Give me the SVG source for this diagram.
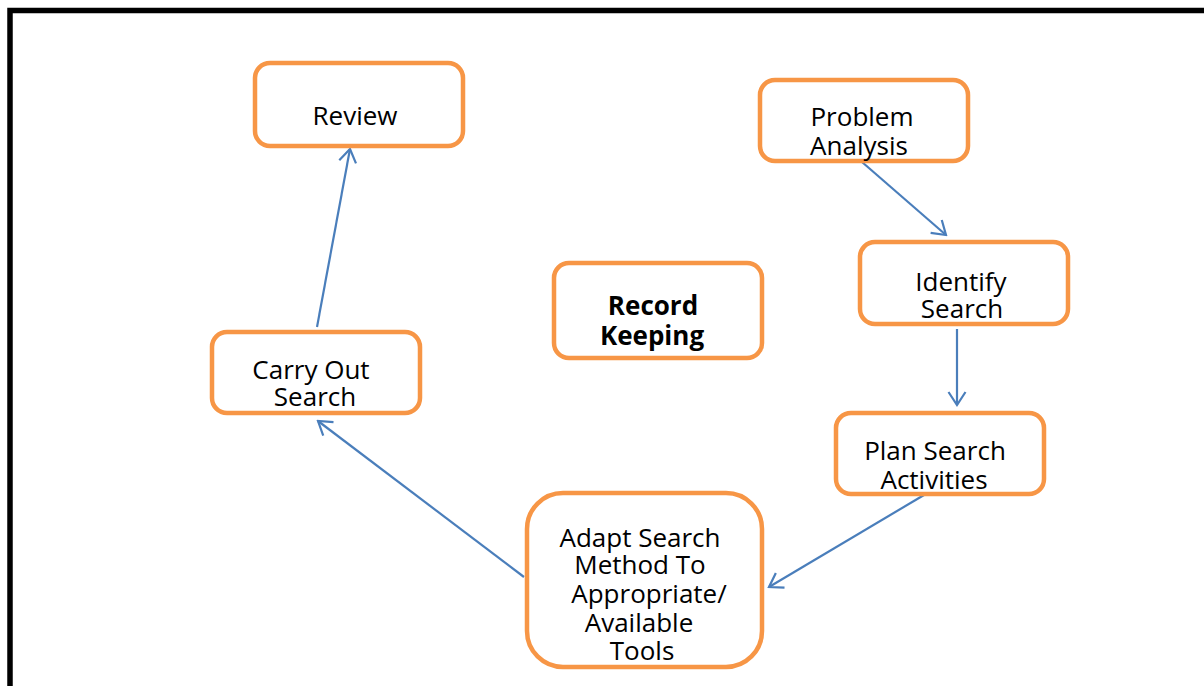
<svg xmlns="http://www.w3.org/2000/svg" width="1204" height="686" viewBox="0 0 1204 686">
  <style>
    .box { fill: #ffffff; stroke: #F79646; stroke-width: 4.5; }
    .lbl { font-family: "Open Sans", "Liberation Sans", Arial, sans-serif; font-size: 26px; fill: #000000; text-anchor: middle; }
    .bold { font-weight: bold; }
    .link { fill: none; stroke: #4A7EBB; stroke-width: 2.2; marker-end: url(#arrow); }
  </style>
  <defs>
    <marker id="arrow" markerUnits="userSpaceOnUse" viewBox="-14 -10 16 20" refX="0" refY="0" markerWidth="16" markerHeight="20" orient="auto">
      <path d="M-13,-8.5 L0,0 L-13,8.5" fill="none" stroke="#4A7EBB" stroke-width="2.2"/>
    </marker>
  </defs>

  <rect width="1204" height="686" fill="#ffffff"/>
  <!-- page frame, running off the right and bottom edges -->
  <rect x="10" y="10.5" width="1300" height="800" fill="none" stroke="#000000" stroke-width="5.5"/>

  <g id="connectors">
    <line class="link" x1="862" y1="162" x2="946" y2="235"/>
    <line class="link" x1="957" y1="329" x2="957" y2="405"/>
    <line class="link" x1="924" y1="495" x2="769" y2="587"/>
    <line class="link" x1="524" y1="577" x2="318" y2="421"/>
    <line class="link" x1="317" y1="327" x2="350" y2="149"/>
  </g>

  <g id="review">
    <rect class="box" x="255" y="63" width="208" height="83" rx="15"/>
    <text class="lbl" x="355" y="125">Review</text>
  </g>

  <g id="problem-analysis">
    <rect class="box" x="760" y="80" width="208" height="81" rx="15"/>
    <text class="lbl" x="862" y="126">Problem</text>
    <text class="lbl" x="859" y="155">Analysis</text>
  </g>

  <g id="identify-search">
    <rect class="box" x="860" y="242" width="208" height="82" rx="15"/>
    <text class="lbl" x="961" y="291">Identify</text>
    <text class="lbl" x="962" y="318">Search</text>
  </g>

  <g id="record-keeping">
    <rect class="box" x="554" y="263" width="208" height="95" rx="15"/>
    <text class="lbl bold" x="653" y="315">Record</text>
    <text class="lbl bold" x="652" y="345">Keeping</text>
  </g>

  <g id="carry-out-search">
    <rect class="box" x="212" y="332" width="208" height="81" rx="15"/>
    <text class="lbl" x="311" y="379">Carry Out</text>
    <text class="lbl" x="315" y="406">Search</text>
  </g>

  <g id="plan-search-activities">
    <rect class="box" x="836" y="413" width="208" height="81" rx="15"/>
    <text class="lbl" x="935" y="460">Plan Search</text>
    <text class="lbl" x="934" y="489">Activities</text>
  </g>

  <g id="adapt-search-method">
    <rect class="box" x="527" y="493" width="235" height="174" rx="36"/>
    <text class="lbl" x="640" y="547">Adapt Search</text>
    <text class="lbl" x="640" y="574">Method To</text>
    <text class="lbl" x="649" y="603">Appropriate/</text>
    <text class="lbl" x="639" y="632">Available</text>
    <text class="lbl" x="642" y="660">Tools</text>
  </g>
</svg>
